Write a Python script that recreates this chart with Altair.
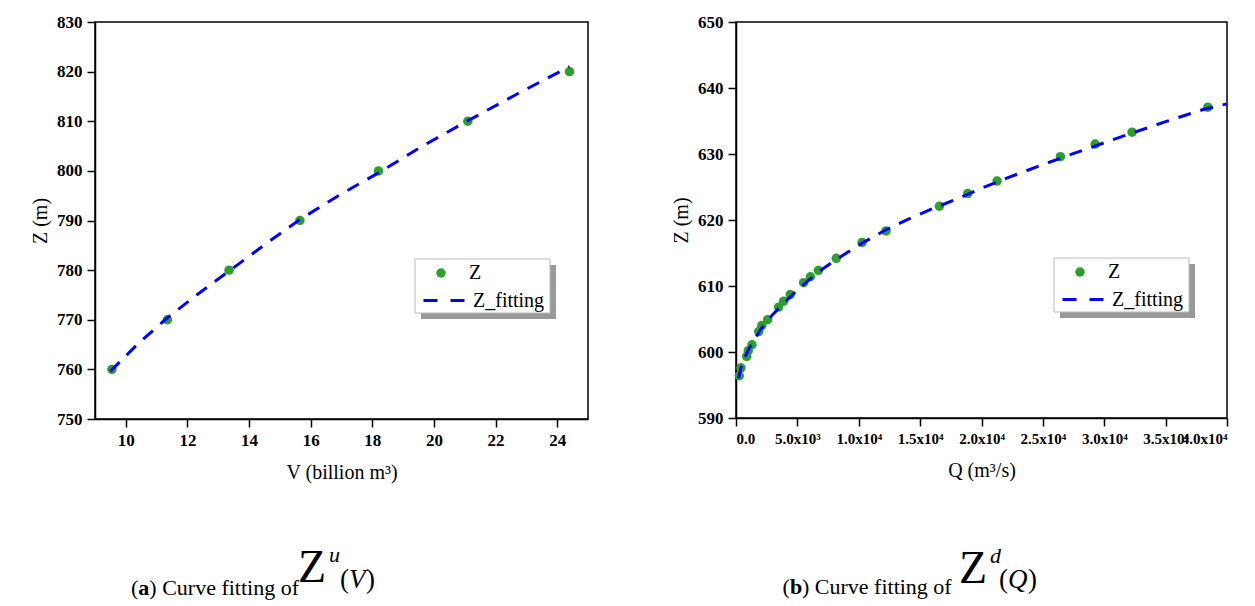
import altair as alt
import pandas as pd

FONT = "Liberation Serif"
GREEN = "#2ca02c"
BLUE = "#0000ff"

# ---------------- data ----------------
# (a) Z^u(V)
v_obs = [9.55, 11.35, 13.35, 15.65, 18.2, 21.1, 24.4]
zu_obs = [760, 770, 780, 790, 800, 810, 820]
v_fit = [9.5, 10.4, 11.35, 12.3, 13.35, 14.5, 15.65, 16.9, 18.2, 19.6, 21.1, 22.7, 24.4]
zu_fit = [759.6, 765.2, 770.4, 775.0, 779.8, 785.1, 790.2, 795.0, 799.6, 804.9, 810.1, 815.5, 821.0]
v_ticks = [10, 12, 14, 16, 18, 20, 22, 24]
v_tick_labels = ["10", "12", "14", "16", "18", "20", "22", "24"]
zu_ticks = [750, 760, 770, 780, 790, 800, 810, 820, 830]

# (b) Z^d(Q)
q_obs = [270, 400, 870, 1000, 1300, 1850, 2100, 2580, 3470, 3880, 4420, 5510,
         6060, 6710, 8170, 10270, 12220, 16570, 18880, 21270, 26430, 29260, 32270, 38440]
zd_obs = [596.4, 597.6, 599.35, 600.2, 601.1, 603.1, 604.0, 604.9, 606.8, 607.7, 608.7, 610.5,
          611.4, 612.35, 614.2, 616.6, 618.35, 622.1, 624.0, 625.9, 629.6, 631.5, 633.3, 637.1]
q_fit = [200, 500, 1000, 2000, 3000, 4000, 5000, 6000, 7000, 8000, 10000, 12000, 14000,
         16000, 18000, 20000, 22000, 25000, 28000, 30000, 32000, 35000, 38000, 40000]
zd_fit = [596.0, 598.3, 600.3, 603.4, 605.7, 607.6, 609.4, 611.0, 612.5, 613.8, 616.2, 618.3, 620.1,
          621.7, 623.2, 624.8, 626.3, 628.4, 630.4, 631.7, 633.0, 634.9, 636.7, 637.6]
q_ticks = [0, 5000, 10000, 15000, 20000, 25000, 30000, 35000, 40000]
q_tick_labels = ["0.0", "5.0x10³", "1.0x10⁴", "1.5x10⁴", "2.0x10⁴", "2.5x10⁴", "3.0x10⁴", "3.5x10⁴", "4.0x10⁴"]
zd_ticks = [590, 600, 610, 620, 630, 640, 650]

series_names = ["Z", "Z_fitting"]


def label_expr(ticks, labels):
    expr = "''"
    for t, l in reversed(list(zip(ticks, labels))):
        expr = f"datum.value == {t} ? '{l}' : ({expr})"
    return expr


def axis(title, values, lexpr=None, orient="bottom", lsize=17, flush=False):
    kw = dict(
        title=title, values=values, grid=False, labelOverlap=False, labelFlush=flush,
        domainColor="black", domainWidth=1.5, tickColor="black", tickWidth=1.5, tickSize=8,
        labelFont=FONT, labelFontSize=lsize, labelFontWeight="bold", labelColor="black",
        titleFont=FONT, titleFontSize=20, titleFontWeight="normal", titleColor="black",
        labelPadding=5, titlePadding=14 if orient == "bottom" else 6,
    )
    if lexpr:
        kw["labelExpr"] = lexpr
    return alt.Axis(**kw)


def panel(x, z, xf, zf, x_title, x_dom, x_ticks, x_lexpr, x_lsize, x_flush, z_dom, z_ticks, w, h,
          lx, ly, caption):
    obs = pd.DataFrame({"x": x, "z": z, "s": series_names[0]})
    fit = pd.DataFrame({"x": xf, "z": zf, "s": series_names[1]})
    X = alt.X("x:Q", scale=alt.Scale(domain=x_dom, nice=False, zero=False),
              axis=axis(x_title, x_ticks, x_lexpr, lsize=x_lsize, flush=x_flush))
    Y = alt.Y("z:Q", scale=alt.Scale(domain=z_dom, nice=False, zero=False),
              axis=axis("Z (m)", z_ticks, orient="left"))

    one = alt.Data(values=[{"a": 1}])
    shadow = alt.Chart(one).mark_rect(fill="#999999").encode(
        x=alt.value(lx + 6), x2=alt.value(lx + 141), y=alt.value(ly + 6), y2=alt.value(ly + 60))
    box = alt.Chart(one).mark_rect(fill="white", stroke="#bbbbbb", strokeWidth=1).encode(
        x=alt.value(lx), x2=alt.value(lx + 135), y=alt.value(ly), y2=alt.value(ly + 54))

    pts = alt.Chart(obs).mark_circle(size=90, opacity=1).encode(
        x=X, y=Y,
        fill=alt.Fill("s:N", scale=alt.Scale(domain=[series_names[0]], range=[GREEN]),
                      legend=alt.Legend(orient="none", legendX=lx + 16, legendY=ly + 4, title=None,
                                        symbolType="circle", symbolSize=90, padding=0,
                                        labelFont=FONT, labelFontSize=20, labelColor="black",
                                        labelOffset=18)))
    line = alt.Chart(fit).mark_line(strokeWidth=3, strokeDash=[13, 10]).encode(
        x=X, y=Y,
        stroke=alt.Stroke("s:N", scale=alt.Scale(domain=[series_names[1]], range=[BLUE]),
                          legend=alt.Legend(orient="none", legendX=lx + 7, legendY=ly + 19, title=None,
                                            symbolType="stroke", symbolSize=1764, symbolStrokeWidth=3,
                                            symbolDash=[14, 13], padding=0,
                                            labelFont=FONT, labelFontSize=20, labelColor="black",
                                            labelOffset=6)))
    texts = []
    for (t, px, py, size, weight, style) in caption:
        texts.append(alt.Chart(one).mark_text(
            text=t, align="left", baseline="alphabetic", font=FONT, fontSize=size,
            fontWeight=weight, fontStyle=style, color="black").encode(
            x=alt.value(px), y=alt.value(py)))
    return alt.layer(shadow, box, pts, line, *texts).properties(width=w, height=h)


cap_a = [
    ("(", 36, 573, 22, "normal", "normal"),
    ("a", 43.3, 573, 22, "bold", "normal"),
    (") Curve fitting of", 54.3, 573, 22, "normal", "normal"),
    ("Z", 203, 560, 46, "normal", "normal"),
    ("u", 234, 540, 22, "normal", "italic"),
    ("(", 245, 566, 27, "normal", "normal"),
    ("V", 254, 566, 27, "normal", "italic"),
    (")", 271, 566, 27, "normal", "normal"),
]
cap_b = [
    ("(", 46.6, 572, 22, "normal", "normal"),
    ("b", 53.9, 572, 22, "bold", "normal"),
    (") Curve fitting of", 66, 572, 22, "normal", "normal"),
    ("Z", 223, 561, 46, "normal", "normal"),
    ("d", 254, 541, 22, "normal", "italic"),
    ("(", 263, 566, 27, "normal", "normal"),
    ("Q", 272, 566, 27, "normal", "italic"),
    (")", 292, 566, 27, "normal", "normal"),
]

left = panel(v_obs, zu_obs, v_fit, zu_fit, "V (billion m³)", [9, 25], v_ticks,
             label_expr(v_ticks, v_tick_labels), 17, False, [750, 830], zu_ticks, 493, 397, 320, 237, cap_a)
right = panel(q_obs, zd_obs, q_fit, zd_fit, "Q (m³/s)", [0, 40000], q_ticks,
              label_expr(q_ticks, q_tick_labels), 15, True, [590, 650], zd_ticks, 491, 396, 318, 236, cap_b)

chart = alt.hconcat(left, right, spacing=81).resolve_scale(
    fill="independent", stroke="independent").resolve_legend(
    fill="independent", stroke="independent").properties(
    padding={"left": 21, "top": 4, "right": 0, "bottom": 0}, background="white"
).configure_view(stroke="black", strokeWidth=1.5)

chart.save("out.html", embed_options={"renderer": "svg", "actions": False})
